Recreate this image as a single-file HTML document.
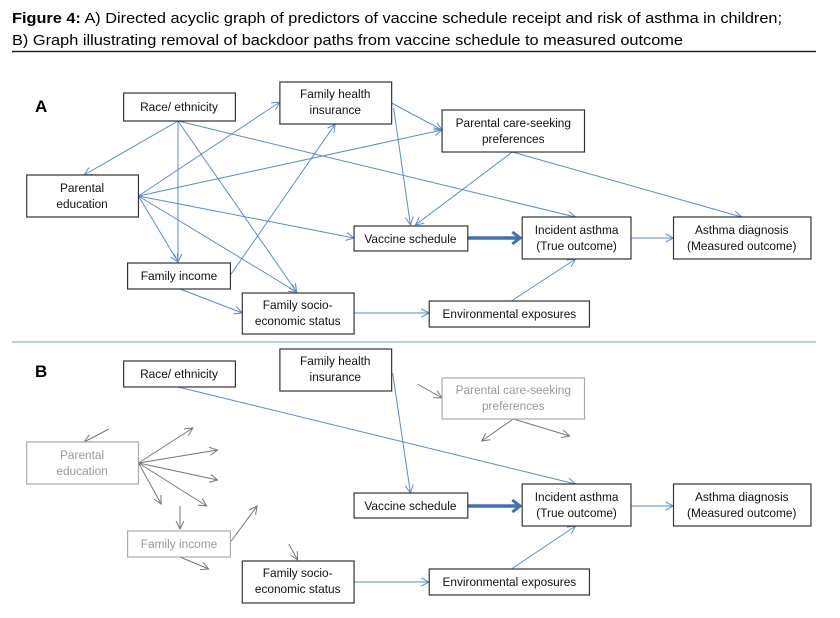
<!DOCTYPE html>
<html><head><meta charset="utf-8"><style>
html,body{margin:0;padding:0;background:#fff;}
svg{display:block;}
text{font-family:"Liberation Sans",sans-serif;}
</style></head><body>
<svg width="840" height="618" viewBox="0 0 840 618" xmlns="http://www.w3.org/2000/svg">
<defs>
<marker id="a" markerWidth="10" markerHeight="10" refX="9" refY="5" orient="auto" markerUnits="userSpaceOnUse"><polyline points="1,1 9,5 1,9" fill="none" stroke="#5b8bc9" stroke-width="1"/></marker>
<marker id="g" markerWidth="10" markerHeight="10" refX="9" refY="5" orient="auto" markerUnits="userSpaceOnUse"><polyline points="1,1 9,5 1,9" fill="none" stroke="#777" stroke-width="1"/></marker>
<marker id="t" markerWidth="14" markerHeight="14" refX="12" refY="7" orient="auto" markerUnits="userSpaceOnUse"><polyline points="4,1 12,7 4,13" fill="none" stroke="#3f72b5" stroke-width="3"/></marker>
</defs>
<text x="12" y="23" font-size="15" textLength="770" lengthAdjust="spacingAndGlyphs"><tspan font-weight="bold">Figure 4:</tspan> A) Directed acyclic graph of predictors of vaccine schedule receipt and risk of asthma in children;</text>
<text x="12" y="45" font-size="15" textLength="671" lengthAdjust="spacingAndGlyphs">B) Graph illustrating removal of backdoor paths from vaccine schedule to measured outcome</text>
<line x1="12" y1="51.5" x2="816" y2="51.5" stroke="#222" stroke-width="1.5"/>
<line x1="12" y1="342" x2="816" y2="342" stroke="#a9bcd6" stroke-width="1.5"/>
<text x="35" y="112" font-size="17" font-weight="bold">A</text>
<text x="35" y="377" font-size="17" font-weight="bold">B</text>
<g transform="scale(0.989 1)">
<g fill="none" stroke="#5b8bc9" stroke-width="1" marker-end="url(#a)">
<line x1="180" y1="121" x2="85" y2="175"/>
<line x1="180" y1="121" x2="180" y2="262"/>
<line x1="180" y1="121" x2="300" y2="292"/>
<line x1="180" y1="121" x2="582" y2="217"/>
<line x1="140" y1="196" x2="283" y2="102"/>
<line x1="140" y1="196" x2="447" y2="130"/>
<line x1="140" y1="196" x2="358" y2="238"/>
<line x1="140" y1="196" x2="180" y2="262"/>
<line x1="140" y1="196" x2="300" y2="292"/>
<line x1="233" y1="275" x2="339" y2="124"/>
<line x1="182" y1="289" x2="245" y2="313"/>
<line x1="396" y1="103" x2="447" y2="130"/>
<line x1="398" y1="108" x2="415" y2="225"/>
<line x1="518" y1="152" x2="420" y2="225"/>
<line x1="518" y1="152" x2="750" y2="217"/>
<line x1="637" y1="238" x2="681" y2="238"/>
<line x1="358" y1="313" x2="434" y2="313"/>
<line x1="517" y1="301" x2="582" y2="259"/>
<line x1="180" y1="387" x2="582" y2="484"/>
<line x1="397" y1="373" x2="415" y2="493"/>
<line x1="637" y1="506" x2="681" y2="506"/>
<line x1="358" y1="582" x2="434" y2="582"/>
<line x1="517" y1="569" x2="582" y2="526"/>
</g>
<g stroke="#3f72b5" stroke-width="3.5" marker-end="url(#t)">
<line x1="473" y1="238" x2="526" y2="238"/>
<line x1="473" y1="506" x2="526" y2="506"/>
</g>
<g fill="none" stroke="#777" stroke-width="1" marker-end="url(#g)">
<line x1="422" y1="384" x2="447" y2="398"/>
<line x1="519" y1="419" x2="487" y2="441"/>
<line x1="519" y1="419" x2="576" y2="436"/>
<line x1="110" y1="429" x2="85" y2="442"/>
<line x1="140" y1="463" x2="195" y2="428"/>
<line x1="140" y1="463" x2="220" y2="450"/>
<line x1="140" y1="463" x2="220" y2="480"/>
<line x1="140" y1="463" x2="209" y2="506"/>
<line x1="140" y1="463" x2="163" y2="504"/>
<line x1="182" y1="506" x2="182" y2="529"/>
<line x1="233" y1="542" x2="260" y2="506"/>
<line x1="182" y1="557" x2="211" y2="569"/>
<line x1="292" y1="544" x2="301" y2="560"/>
</g>
<g fill="#fff" stroke="#333" stroke-width="1.2">
<rect x="125" y="93" width="113" height="28"/>
<rect x="283" y="82" width="113" height="42"/>
<rect x="447" y="110" width="144" height="42"/>
<rect x="27" y="175" width="113" height="42"/>
<rect x="358" y="226" width="115" height="25"/>
<rect x="528" y="217" width="110" height="42"/>
<rect x="681" y="217" width="139" height="42"/>
<rect x="129" y="263" width="104" height="26"/>
<rect x="245" y="293" width="113" height="41"/>
<rect x="434" y="301" width="162" height="26"/>
<rect x="125" y="361" width="113" height="26"/>
<rect x="283" y="349" width="113" height="42"/>
<rect x="358" y="493" width="115" height="25"/>
<rect x="528" y="484" width="110" height="42"/>
<rect x="681" y="484" width="139" height="42"/>
<rect x="245" y="561" width="113" height="42"/>
<rect x="434" y="569" width="162" height="26"/>
</g>
<g fill="#fff" stroke="#aaa" stroke-width="1.2">
<rect x="447" y="378" width="144" height="41"/>
<rect x="27" y="442" width="113" height="42"/>
<rect x="129" y="531" width="104" height="26"/>
</g>
<g font-size="12" fill="#111" text-anchor="middle">
<text x="181" y="111">Race/ ethnicity</text>
<text x="339" y="98">Family health</text><text x="339" y="114">insurance</text>
<text x="519" y="127">Parental care-seeking</text><text x="519" y="143">preferences</text>
<text x="83" y="192">Parental</text><text x="83" y="208">education</text>
<text x="415" y="243">Vaccine schedule</text>
<text x="583" y="234">Incident asthma</text><text x="583" y="250">(True outcome)</text>
<text x="750" y="234">Asthma diagnosis</text><text x="750" y="250">(Measured outcome)</text>
<text x="181" y="280">Family income</text>
<text x="301" y="309">Family socio-</text><text x="301" y="325">economic status</text>
<text x="515" y="318">Environmental exposures</text>
<text x="181" y="378">Race/ ethnicity</text>
<text x="339" y="365">Family health</text><text x="339" y="381">insurance</text>
<text x="415" y="510">Vaccine schedule</text>
<text x="583" y="501">Incident asthma</text><text x="583" y="517">(True outcome)</text>
<text x="750" y="501">Asthma diagnosis</text><text x="750" y="517">(Measured outcome)</text>
<text x="301" y="577">Family socio-</text><text x="301" y="593">economic status</text>
<text x="515" y="586">Environmental exposures</text>
</g>
<g font-size="12" fill="#999" text-anchor="middle">
<text x="519" y="394">Parental care-seeking</text><text x="519" y="410">preferences</text>
<text x="83" y="459">Parental</text><text x="83" y="475">education</text>
<text x="181" y="548">Family income</text>
</g>
</g>
</svg>
</body></html>
